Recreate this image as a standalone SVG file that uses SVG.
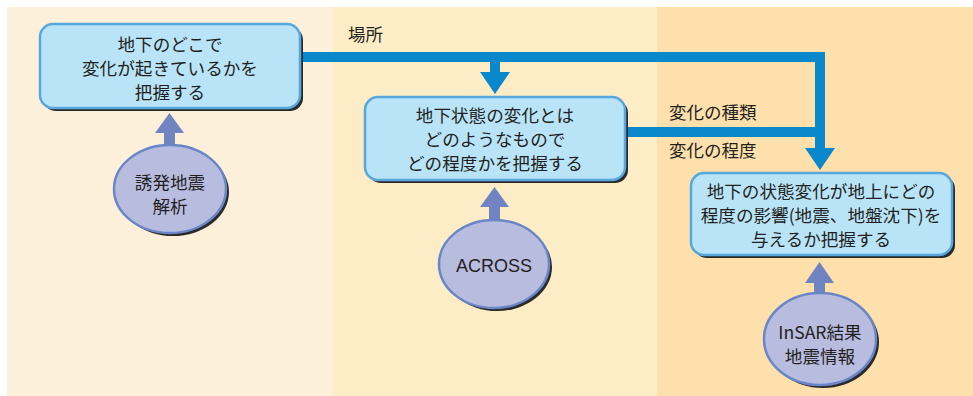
<svg xmlns="http://www.w3.org/2000/svg" width="973" height="396" viewBox="0 0 973 396">
<style>
.t{font-family:"Noto Sans CJK JP","Noto Sans",sans-serif;font-size:17.6px;fill:#231f20;text-anchor:middle}
.lb{font-family:"Noto Sans CJK JP","Noto Sans",sans-serif;font-size:17.5px;fill:#231f20}
.box{fill:#b9e4f8;stroke:#57a6dc;stroke-width:2.5}
.sh{fill:#2a2a2a}
.ell{fill:#b8bde0;stroke:#6a86c6;stroke-width:2.5}
.blue{fill:none;stroke:#0a88cc;stroke-width:10}
.bh{fill:#0a88cc}
.up{fill:#6f84c0}
</style>
<rect x="7" y="7" width="326" height="389" fill="#fdf0da"/>
<rect x="333" y="7" width="324" height="389" fill="#fcedc6"/>
<rect x="657" y="7" width="316" height="389" fill="#fde0ac"/>
<g id="connectors">
<path class="blue" d="M300 57 H820 V150"/>
<path class="bh" d="M805 148 H835 L820 170 Z"/>
<path class="blue" d="M495 57 V74"/>
<path class="bh" d="M480 72 H510 L495 94 Z"/>
<path class="blue" d="M625 132 H820"/>
<path class="up" d="M164 146 V133 H155 L169.5 113 L184 133 H175 V146 Z"/>
<path class="up" d="M489 221 V207 H480 L494.5 187 L509 207 H500 V221 Z"/>
<path class="up" d="M814 294 V283 H805 L819.5 262 L834 283 H825 V294 Z"/>
</g>
<g id="labels">
<text class="lb" x="348" y="41">場所</text>
<text class="lb" x="669" y="119">変化の種類</text>
<text class="lb" x="669" y="157">変化の程度</text>
</g>
<g id="node1">
<rect class="sh" x="43" y="27" width="260" height="84" rx="13"/>
<rect class="box" x="40" y="24" width="260" height="84" rx="13"/>
<text class="t" x="170" y="51">地下のどこで</text>
<text class="t" x="170" y="75">変化が起きているかを</text>
<text class="t" x="170" y="99">把握する</text>
</g>
<g id="node2">
<rect class="sh" x="368" y="100" width="260" height="83" rx="13"/>
<rect class="box" x="365" y="97" width="260" height="83" rx="13"/>
<text class="t" x="495" y="122">地下状態の変化とは</text>
<text class="t" x="495" y="146">どのようなもので</text>
<text class="t" x="495" y="170">どの程度かを把握する</text>
</g>
<g id="node3">
<rect class="sh" x="694" y="176" width="261" height="82" rx="13"/>
<rect class="box" x="691" y="173" width="261" height="82" rx="13"/>
<text class="t" x="821" y="198">地下の状態変化が地上にどの</text>
<text class="t" x="821" y="222">程度の影響(地震、地盤沈下)を</text>
<text class="t" x="821" y="246">与えるか把握する</text>
</g>
<g id="ell1">
<ellipse class="sh" cx="173" cy="192" rx="56" ry="44"/>
<ellipse class="ell" cx="170" cy="189" rx="56" ry="44"/>
<text class="t" x="170" y="189">誘発地震</text>
<text class="t" x="170" y="213">解析</text>
</g>
<g id="ell2">
<ellipse class="sh" cx="497" cy="267" rx="55" ry="44"/>
<ellipse class="ell" cx="494" cy="264" rx="55" ry="44"/>
<text x="494" y="272" text-anchor="middle" style="font-family:'Liberation Sans',Arial,sans-serif;font-size:18px;fill:#231f20">ACROSS</text>
</g>
<g id="ell3">
<ellipse class="sh" cx="823" cy="342" rx="56" ry="46"/>
<ellipse class="ell" cx="820" cy="339" rx="56" ry="46"/>
<text class="t" x="820" y="339">InSAR結果</text>
<text class="t" x="820" y="363">地震情報</text>
</g>
</svg>
